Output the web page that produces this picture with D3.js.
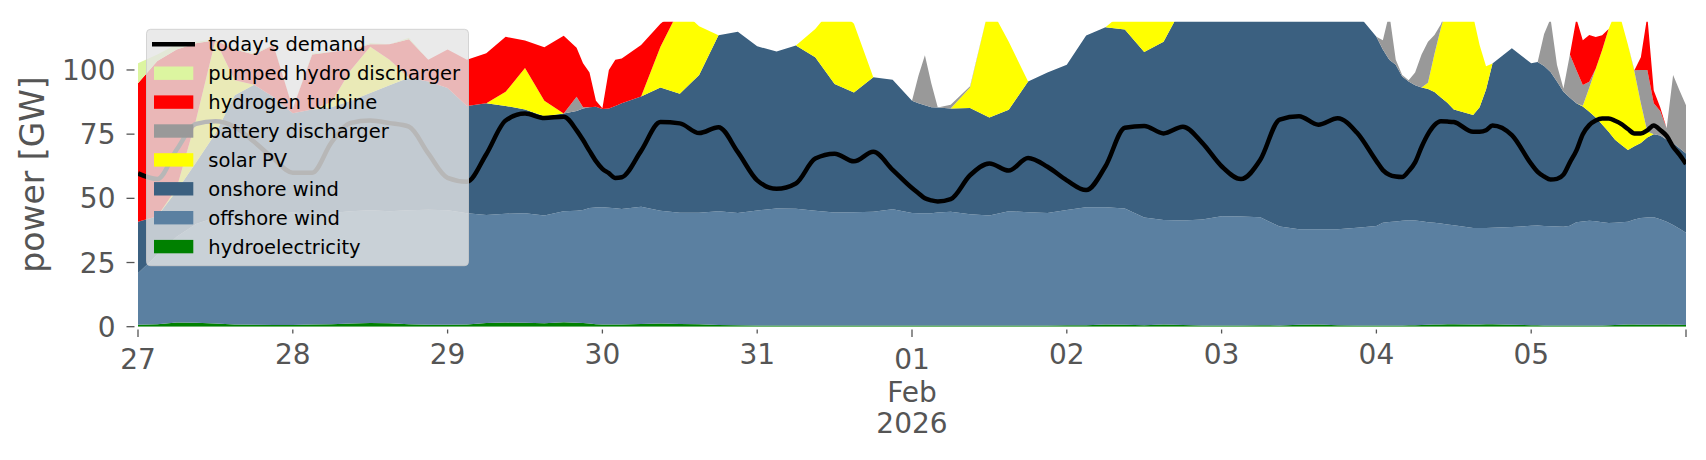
<!DOCTYPE html>
<html><head><meta charset="utf-8">
<script src="https://cdn.jsdelivr.net/npm/d3@7"></script>
<style>body{margin:0;background:#fff;} svg{display:block;font-family:'DejaVu Sans',sans-serif;}</style>
</head><body><svg id="chart" width="1706" height="460"></svg>
<script>
// ---- data: hours after 2026-01-27 00:00 UTC (denser where the picture has short spikes) ----
const startTime = Date.UTC(2026, 0, 27, 0);
const hours = [0,3,6,9,12,15,18,21,24,27,30,33,36,39,42,45,48,51,54,57,60,63,66,
 68,69,70,71,72,73,74,75,
 78,81,84,87,90,93,96,99,102,105,108,111,114,117,
 120,121,122,123,124,
 126,129,132,135,138,141,144,147,150,153,156,159,162,165,168,171,174,177,180,183,186,189,
 192,193,194,195,196,197,198,199,200,201,202,203,204,
 207,208,209,210,
 213,
 216,217,218,219,220,221,222,223,224,225,226,227,228,229,230,231,232,233,234,235,236,237,238,239,240];
const hydroelectricity = [0.8,1.0,1.6,1.5,1.2,0.9,0.8,0.7,0.7,0.9,1.0,1.2,1.4,1.3,1.0,0.8,0.8,0.9,1.4,1.6,1.5,1.3,1.7,
 1.5,1.4,1.2,1.0,0.9,0.9,0.9,0.9,
 1.1,1.2,1.1,1.0,0.7,0.6,0.5,0.5,0.5,0.5,0.5,0.5,0.5,0.5,
 0.5,0.5,0.5,0.5,0.5,
 0.5,0.5,0.5,0.5,0.5,0.5,0.6,0.6,0.9,0.8,0.6,0.9,0.7,0.5,0.5,0.5,0.6,0.5,0.8,0.9,0.6,0.5,
 0.5,0.5,0.5,0.5,0.5,0.6,0.6,0.7,0.8,0.9,0.9,1.0,1.0,
 0.9,0.9,1.0,1.0,
 0.8,
 0.6,0.6,0.5,0.5,0.5,0.5,0.5,0.5,0.5,0.5,0.5,0.5,0.6,0.7,0.8,0.9,0.9,0.8,0.8,0.8,0.9,0.9,0.8,0.8,0.7];
const offshoreWind = [20.0,27.0,33.4,38.5,41.3,42.6,43.2,43.3,43.8,43.1,43.3,43.8,44.0,43.7,44.4,44.8,44.6,43.3,42.1,42.4,42.7,42.0,43.3,
 43.7,44.1,45.0,45.4,45.6,45.4,45.2,44.9,
 45.6,44.0,43.3,43.4,44.3,43.7,44.8,45.5,45.4,44.7,44.0,44.1,44.3,45.2,
 43.8,43.7,43.7,43.7,44.0,
 44.3,43.3,42.8,44.5,44.1,43.8,44.9,45.9,45.6,45.2,41.9,40.7,40.7,41.3,42.5,42.4,42.0,38.5,37.2,37.1,37.4,38.0,
 38.7,40.0,40.3,40.5,40.8,40.9,40.8,40.4,39.9,39.6,39.3,38.8,38.5,
 37.5,37.5,37.4,37.5,
 38.0,
 38.7,38.8,38.7,38.6,38.5,38.4,38.8,40.2,40.5,40.8,40.6,40.2,39.8,39.8,39.9,40.0,40.9,41.5,41.7,41.8,41.0,40.0,38.8,37.4,35.9];
const onshoreWind = [20.1,15.0,18.0,24.0,32.8,46.7,50.2,45.5,38.6,40.6,41.2,43.0,45.6,49.0,51.6,49.9,47.6,41.8,43.5,42.0,40.4,38.7,38.0,
 38.8,39.5,39.3,39.3,38.3,38.7,39.9,41.2,
 43.0,48.0,46.3,53.6,68.5,70.6,63.9,61.2,63.6,59.8,50.0,46.6,52.4,50.5,
 43.7,42.8,42.1,41.3,40.9,
 40.2,41.4,38.2,39.5,50.9,54.7,56.5,66.9,70.1,69.8,64.5,69.4,83.6,86.2,87.0,87.1,85.4,88.0,90.0,92.0,90.0,83.5,
 73.7,67.5,63.2,61.0,56.2,54.0,52.6,52.1,51.9,50.9,49.1,47.4,45.1,
 44.1,47.1,54.0,64.0,
 69.7,
 63.3,63.7,62.3,60.1,56.5,52.6,49.9,46.3,44.8,42.4,40.4,38.1,35.5,32.3,30.1,27.9,28.5,29.3,31.2,32.4,32.6,31.9,31.9,31.3,30.9];
const solarPV = [0,0,1.0,16.6,36.3,5.8,0,0,0,0,2.0,12.0,18.0,10.0,0,0,0,0,0,5.5,16.2,6.0,0,
 0,0,0,0,0,0,0,0,
 0,15.8,33.3,19.0,0,0,0,0,0,11.0,30.5,26.8,0,0,
 0,0,0,0,0,
 0,8.0,43.5,26.5,0,0,0,0,0,7.2,21.0,9.0,0,0,0,0,0,0,0,0,0,0,
 0,0,0,0,0,0,0,0,2.4,14.8,27.0,37.8,41.4,
 38.5,24.2,9.0,0,
 0,
 0,0,0,0,0,0,0,0,0.3,9.4,19.0,29.0,40.1,49.2,48.2,41.0,29.1,15.4,2.3,0,0,0,0,0,0];
const batteryDischarger = [0,0,0,0,0,0,0,0,0,0,0,0,0,0,0,0,0,0,0,0,0,0,0,
 5.6,0.5,0,0,0,0,0,0,
 0,0,0,0,0,0,0,0,0,0,0,0,0,0,
 0,10.7,19.4,9.2,0,
 1.5,0.5,0,0,0,0,0,0,0,0,0,0,0,0,0,0,0,0,0,0,0,0,
 0,3.6,18,2,0.5,0.5,5,12.8,16,7.4,1.5,0,0,
 0,0,0,0,
 0,
 0,0,12.5,20.8,6.4,1.3,16.8,13,8,2.3,0,0,0,0,0,0,0.5,13,24,12,9.5,4.5,26.5,22.5,18.8];
const hydrogenTurbine = [53.9,60.5,54.0,29.8,0,12.0,11.8,20.2,1.9,21.4,19.5,8.0,1.0,6.0,15.0,8.5,15.0,18.0,19.5,21.4,10.7,20.8,30.3,
 19.1,17.1,13.5,2.3,0.3,15,18,17.5,
 20.0,9.0,0,0,0,0,0,0,0,0,0,0,0,0,
 0,0,0,0,0,
 0,0,0,0,0,0,0,0,0,0,0,0,0,0,0,0,0,0,0,0,0,0,
 0,0,0,0,0,0,0,0,0,0,0,0,0,
 0,0,0,0,
 0,
 0,0,0,0,0,0,0,20,17.5,18.2,12.3,5.7,0,0,0,0,0,5,21,5,1.5,0,0,0,0];
const pumpedHydroDischarger = [7.8,2.5,2.0,0.6,0.4,0.5,0.5,0.3,0,0.5,0,0,0.5,0,0.5,0,0,0,0,0,0,0,0,
 0,0,0,0,0,0,0,0,
 0,0,0,0,0,0,0,0,0,0,0,0,0,0,
 0,0,0,0,0,
 0,0,0,0,0,0,0,0,0,0,0,0,0,0,0,0,0,0,0,0,0,0,
 0,0,0,0,0,0,0,0,0,0,0,0,0,
 0,0,0,0,
 0,
 0,0,0,0,0,0,0,0,0,0,0,0,0,0,0,0,0,0,0,0,0,0,0,0,0];
const todaysDemand = [59.7,57.5,69,79,80,77.8,72,65.5,60,60,71.8,79.4,80.3,79.3,77.9,67.5,58,56.5,67.2,80.3,83,81.3,81.8,
 76.5,72.7,68.5,64.5,61.5,59.8,57.9,58.2,
 68.5,79.7,79.2,75.4,77.7,68,57,53.7,55.8,65.5,67.4,64.4,68.1,61.1,
 54,52,50,49.2,48.8,
 49.7,59,63.6,60.8,65.7,62.3,57,53.2,62.5,77.5,78.2,75.3,77.9,71.6,62.5,57.5,65,80.7,82,78.7,81.2,75.5,
 64.5,61,59.2,58.5,58.3,60.6,64,70,75,78.5,80,79.9,79.7,
 75.9,75.9,76.5,78.4,
 74.6,
 63.4,60.3,58.5,57.3,57.6,59.2,64,68.6,75,78.5,80.3,81.1,81.1,80.2,78.9,77,75.3,75.3,76.5,78.4,76.6,74.3,70.1,67,63.4];

const seriesNames = ["hydroelectricity","offshore wind","onshore wind","solar PV","battery discharger","hydrogen turbine","pumped hydro discharger"];
const seriesValues = [hydroelectricity, offshoreWind, onshoreWind, solarPV, batteryDischarger, hydrogenTurbine, pumpedHydroDischarger];
const seriesColors = ["#008000","#5b80a1","#3b6080","#ffff00","#999999","#ff0000","#dcf5a0"];
const legendOrder = ["today's demand","pumped hydro discharger","hydrogen turbine","battery discharger","solar PV","onshore wind","offshore wind","hydroelectricity"];
const yTicks = [0,25,50,75,100];
const dayLabels = ["27","28","29","30","31","01","02","03","04","05"];
const monthLabel = "Feb";
const yearLabel = "2026";
const yLabel = "power [GW]";

// ---- layout ----
const plot = {left:138, right:1686, top:21.7, bottom:326.7};
const yMax = 118.8;
const svg = d3.select("#chart");

const times = hours.map(h => new Date(startTime + h*3600e3));
const x = d3.scaleUtc().domain([times[0], times[times.length-1]]).range([plot.left, plot.right]);
const y = d3.scaleLinear().domain([0, yMax]).range([plot.bottom, plot.top]);

const rows = times.map((t, i) => {
  const r = {time:t, demand: todaysDemand[i]};
  seriesNames.forEach((n, j) => r[n] = seriesValues[j][i] || 0);
  return r;
});
const stacked = d3.stack().keys(seriesNames)(rows);

svg.append("defs").append("clipPath").attr("id","clip")
  .append("rect").attr("x",plot.left).attr("y",plot.top)
  .attr("width",plot.right-plot.left).attr("height",plot.bottom-plot.top);

const area = d3.area()
  .x(d => x(d.data.time)).y0(d => y(d[0])).y1(d => y(d[1]));
const g = svg.append("g").attr("clip-path","url(#clip)");
g.selectAll("path.area").data(stacked).join("path")
  .attr("class","area")
  .attr("d", area)
  .attr("fill", (d,i) => seriesColors[i]);

const line = d3.line().x(d => x(d.time)).y(d => y(d.demand)).curve(d3.curveMonotoneX);
g.append("path").datum(rows).attr("d", line)
  .attr("fill","none").attr("stroke","#000").attr("stroke-width",4.5)
  .attr("stroke-linejoin","round");

// ---- y axis ----
const tickColor = "#555555";
const yAx = svg.append("g");
yAx.selectAll("line").data(yTicks).join("line")
  .attr("x1",126.5).attr("x2",134.5)
  .attr("y1",d=>y(d)).attr("y2",d=>y(d))
  .attr("stroke",tickColor).attr("stroke-width",1.3);
yAx.selectAll("text").data(yTicks).join("text")
  .attr("x",115.5).attr("y",d=>y(d)).attr("dy","0.36em")
  .attr("text-anchor","end").attr("font-size",28).attr("fill",tickColor)
  .text(d=>d);
svg.append("text").attr("transform","translate(44,174.5) rotate(-90)")
  .attr("text-anchor","middle").attr("font-size",33).attr("fill",tickColor)
  .text(yLabel);

// ---- x axis ----
const days = d3.utcDay.range(times[0], new Date(+times[times.length-1] + 1));
const xAx = svg.append("g");
days.forEach((d, i) => {
  const isMajor = (d.getUTCDate() === 1) || i === 0 || i === days.length - 1;
  const xx = x(d);
  xAx.append("line").attr("x1",xx).attr("x2",xx)
    .attr("y1",329.5).attr("y2", isMajor ? 337 : 333.5)
    .attr("stroke",tickColor).attr("stroke-width",1.3);
  if (i < dayLabels.length) {
    xAx.append("text").attr("x",xx).attr("y", isMajor ? 369 : 364)
      .attr("text-anchor","middle").attr("font-size",28).attr("fill",tickColor)
      .text(dayLabels[i]);
    if (d.getUTCDate() === 1) {
      xAx.append("text").attr("x",xx).attr("y",401.5)
        .attr("text-anchor","middle").attr("font-size",28).attr("fill",tickColor).text(monthLabel);
      xAx.append("text").attr("x",xx).attr("y",433)
        .attr("text-anchor","middle").attr("font-size",28).attr("fill",tickColor).text(yearLabel);
    }
  }
});

// ---- legend ----
const lg = svg.append("g");
lg.append("rect").attr("x",146.5).attr("y",29.3).attr("width",322).attr("height",236.4)
  .attr("rx",4).attr("fill","#e5e5e5").attr("fill-opacity",0.8)
  .attr("stroke","#cccccc").attr("stroke-opacity",0.8).attr("stroke-width",1);
const colorOf = n => n === "today's demand" ? "#000" : seriesColors[seriesNames.indexOf(n)];
legendOrder.forEach((n, i) => {
  const cy = 44.3 + i*28.9;
  if (n === "today's demand") {
    lg.append("line").attr("x1",152).attr("x2",195).attr("y1",cy).attr("y2",cy)
      .attr("stroke","#000").attr("stroke-width",4.5);
  } else {
    lg.append("rect").attr("x",154).attr("y",cy-6.7).attr("width",39.3).attr("height",13.4)
      .attr("fill",colorOf(n));
  }
  lg.append("text").attr("x",208.3).attr("y",cy).attr("dy","0.36em")
    .attr("font-size",19.5).attr("fill","#000").text(n);
});
</script></body></html>
